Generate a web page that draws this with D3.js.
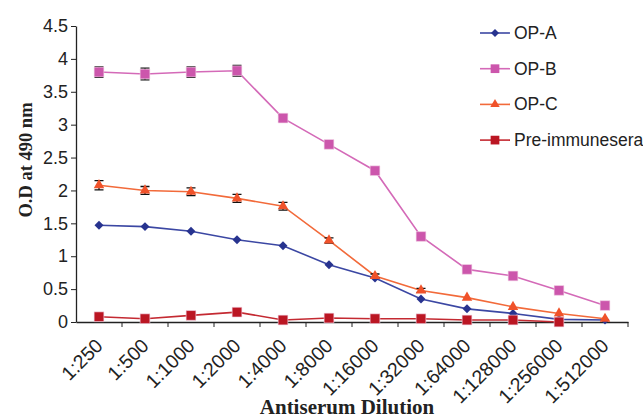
<!DOCTYPE html>
<html>
<head>
<meta charset="utf-8">
<script src="https://cdn.jsdelivr.net/npm/d3@7/dist/d3.min.js"></script>
<style>
  html, body { margin: 0; padding: 0; background: #fff; }
  svg { display: block; }
</style>
</head>
<body>
<svg id="chart" width="643" height="418"></svg>
<script>
// Dilution series (x categories)
const dilutions = ["1:250", "1:500", "1:1000", "1:2000", "1:4000", "1:8000",
  "1:16000", "1:32000", "1:64000", "1:128000", "1:256000", "1:512000"];

// Mean O.D at 490 nm per dilution
const opA = [1.47, 1.45, 1.38, 1.25, 1.16, 0.87, 0.67, 0.35, 0.20, 0.13, 0.04, 0.03];
const opB = [3.80, 3.77, 3.80, 3.82, 3.10, 2.70, 2.30, 1.30, 0.80, 0.70, 0.48, 0.25];
const opC = [2.08, 2.00, 1.98, 1.88, 1.76, 1.24, 0.70, 0.48, 0.37, 0.23, 0.13, 0.05];
const preImmune = [0.08, 0.05, 0.10, 0.15, 0.03, 0.06, 0.05, 0.05, 0.03, 0.03, 0.00, null];

// Standard deviations (error bars)
const opAErr = [0, 0, 0, 0, 0, 0, 0, 0, 0, 0, 0, 0];
const opBErr = [0.08, 0.09, 0.08, 0.08, 0.05, 0, 0, 0, 0, 0, 0, 0];
const opCErr = [0.07, 0.06, 0.06, 0.06, 0.06, 0.04, 0.03, 0.03, 0, 0, 0, 0];
const preErr = [0, 0, 0, 0, 0, 0, 0, 0, 0, 0, 0, 0];

const yTicks = [0, 0.5, 1, 1.5, 2, 2.5, 3, 3.5, 4, 4.5];

const series = [
  { name: "OP-A", values: opA, err: opAErr, line: "#3b47a3", fill: "#27338f", marker: "diamond" },
  { name: "OP-B", values: opB, err: opBErr, line: "#d46ab8", fill: "#cc56ac", marker: "square" },
  { name: "OP-C", values: opC, err: opCErr, line: "#f26a3a", fill: "#f0522a", marker: "triangle" },
  { name: "Pre-immunesera", values: preImmune, err: preErr, line: "#c42a32", fill: "#bb1623", marker: "square" }
];

const svg = d3.select("#chart");
const plotLeft = 76, plotRight = 628, plotTop = 26, plotBottom = 322;
const sansFont = "Liberation Sans, Arial, sans-serif";
const serifFont = "Liberation Serif, Times New Roman, serif";

const x = d3.scaleBand().domain(dilutions).range([plotLeft, plotRight]);
const y = d3.scaleLinear().domain([0, 4.5]).range([plotBottom, plotTop]);
const cx = d => x(d) + x.bandwidth() / 2;

// Y axis
const yAxis = svg.append("g")
  .attr("transform", `translate(${plotLeft},0)`)
  .call(d3.axisLeft(y).tickValues(yTicks).tickSize(5).tickSizeOuter(0)
    .tickFormat(d => String(d)));
yAxis.select(".domain").attr("stroke", "#222").attr("stroke-width", 1.3);
yAxis.selectAll(".tick line").attr("stroke", "#222");
yAxis.selectAll(".tick text")
  .attr("font-family", sansFont)
  .attr("font-size", 18).attr("fill", "#222").attr("x", -8);

// X axis
const xAxis = svg.append("g")
  .attr("transform", `translate(0,${plotBottom})`)
  .call(d3.axisBottom(x).tickSize(0).tickSizeOuter(0));
xAxis.select(".domain").attr("stroke", "#222").attr("stroke-width", 1.3);
xAxis.selectAll(".tick text")
  .attr("font-family", sansFont)
  .attr("font-size", 19.5).attr("fill", "#222")
  .attr("text-anchor", "end")
  .attr("y", 0).attr("dy", 0)
  .attr("transform", "translate(5,25) rotate(-45)");
// tick marks at category boundaries
xAxis.selectAll(".bound")
  .data(dilutions)
  .enter().append("line")
  .attr("x1", (d, i) => plotLeft + (i + 1) * x.bandwidth())
  .attr("x2", (d, i) => plotLeft + (i + 1) * x.bandwidth())
  .attr("y1", 0).attr("y2", 5)
  .attr("stroke", "#222");

// Axis titles
svg.append("text")
  .attr("x", 347).attr("y", 413.5)
  .attr("text-anchor", "middle")
  .attr("font-family", serifFont)
  .attr("font-weight", "bold").attr("font-size", 21).attr("fill", "#222")
  .text("Antiserum Dilution");

svg.append("text")
  .attr("transform", "translate(32,160) rotate(-90)")
  .attr("text-anchor", "middle")
  .attr("font-family", serifFont)
  .attr("font-weight", "bold").attr("font-size", 18.5).attr("fill", "#222")
  .text("O.D at 490 nm");

// Marker shapes: squares, a square turned 45° for the diamond, and a triangle
const symbolFor = m => m === "triangle" ? d3.symbolTriangle : d3.symbolSquare;
const sizeFor = m => m === "diamond" ? 40 : m === "triangle" ? 48 : 95;
const rotFor = m => m === "diamond" ? 45 : 0;

const line = d3.line()
  .defined(d => d.v !== null)
  .x(d => cx(d.c)).y(d => y(d.v));

series.forEach(s => {
  const pts = dilutions.map((c, i) => ({ c, v: s.values[i], e: s.err[i] }));
  const g = svg.append("g");
  g.append("path").datum(pts)
    .attr("fill", "none").attr("stroke", s.line).attr("stroke-width", 1.6)
    .attr("d", line);

  // error bars
  const eb = pts.filter(d => d.v !== null && d.e > 0);
  g.selectAll(".eb").data(eb).enter().append("path")
    .attr("fill", "none").attr("stroke", "#111").attr("stroke-width", 1.3)
    .attr("d", d => {
      const px = cx(d.c), y0 = y(d.v + d.e), y1 = y(d.v - d.e);
      return `M${px - 4.5},${y0}H${px + 4.5}M${px},${y0}V${y1}M${px - 4.5},${y1}H${px + 4.5}`;
    });

  g.selectAll(".m").data(pts.filter(d => d.v !== null)).enter().append("path")
    .attr("d", d3.symbol().type(symbolFor(s.marker)).size(sizeFor(s.marker)))
    .attr("transform", d => `translate(${cx(d.c)},${y(d.v)}) rotate(${rotFor(s.marker)})`)
    .attr("fill", s.fill)
    .attr("stroke", s.marker === "square" ? "#f3d6e8" : "none")
    .attr("stroke-opacity", 0.6)
    .attr("stroke-width", 1);
});

// Legend
const legend = svg.append("g").attr("transform", "translate(480,33)");
series.forEach((s, i) => {
  const row = legend.append("g").attr("transform", `translate(0,${i * 35.7})`);
  row.append("line").attr("x1", 0).attr("x2", 30).attr("y1", 0).attr("y2", 0)
    .attr("stroke", s.line).attr("stroke-width", 1.6);
  row.append("path")
    .attr("d", d3.symbol().type(symbolFor(s.marker)).size(sizeFor(s.marker) * 0.8))
    .attr("transform", `translate(15,0) rotate(${rotFor(s.marker)})`)
    .attr("fill", s.fill);
  row.append("text").attr("x", 34).attr("y", 6)
    .attr("font-family", sansFont)
    .attr("font-size", 17.5).attr("fill", "#222")
    .text(s.name);
});
</script>
</body>
</html>
